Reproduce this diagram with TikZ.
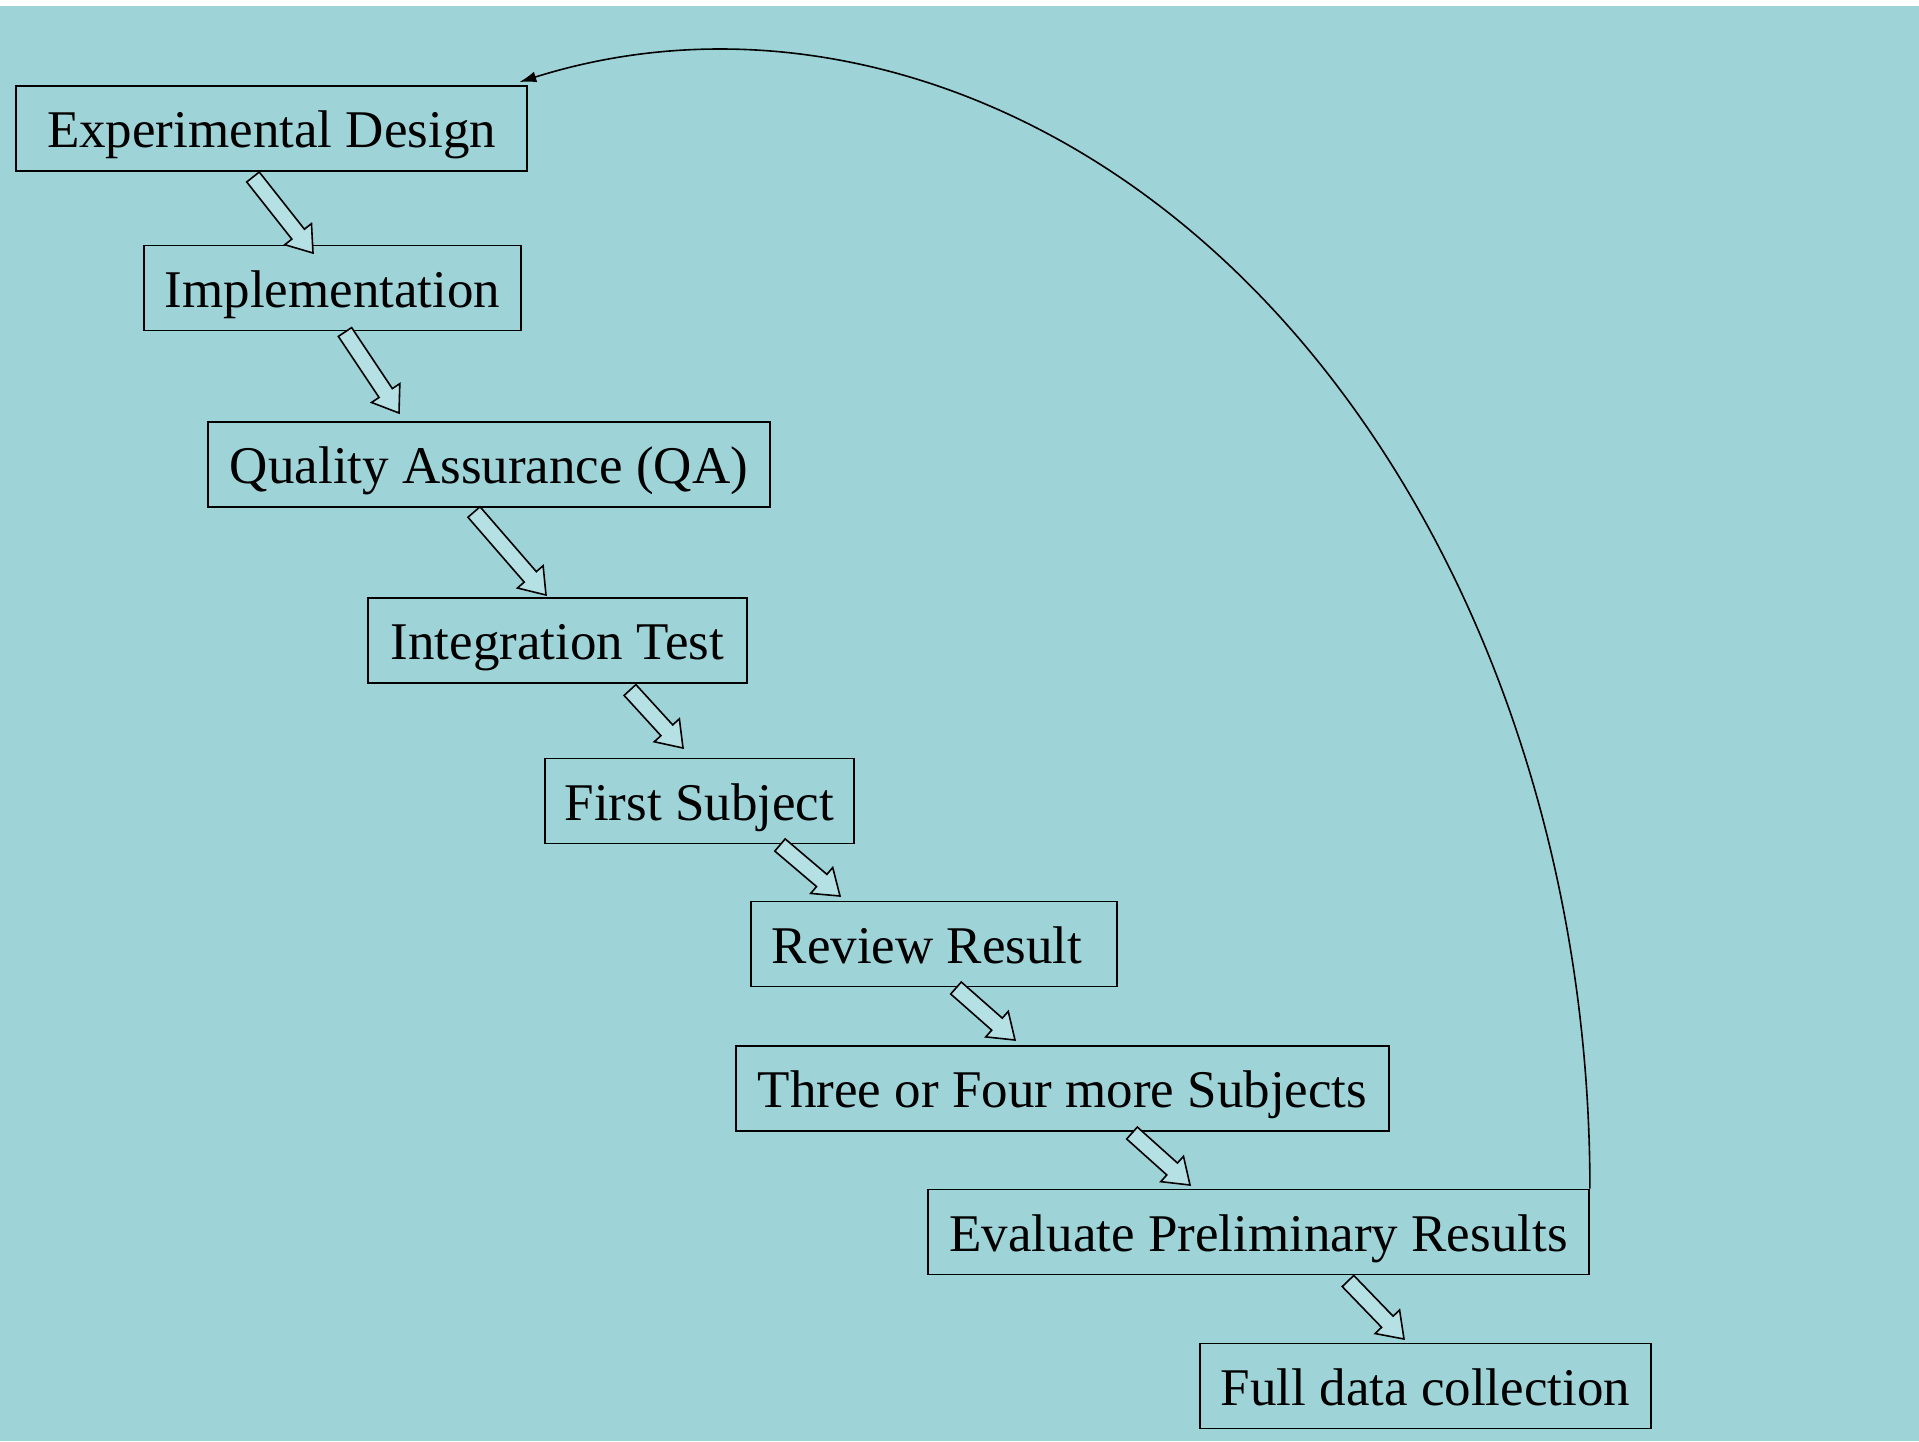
\documentclass[tikz,border=0pt]{standalone}
\usepackage{fontspec}
\setmainfont{Liberation Serif}
\usetikzlibrary{calc,arrows.meta}
\definecolor{bgc}{HTML}{9ED3D8}
\definecolor{arrfill}{HTML}{B5E0E4}
\tikzset{
  stepbox/.style={draw=black, line width=1.8pt, inner sep=0pt, minimum height=85pt,
    font=\fontsize{53}{60}\selectfont, text height=50pt, text depth=12pt},
  blockarr/.style={draw=black, fill=arrfill, line width=1.6pt, line join=miter},
  loopline/.style={draw=black, line width=1.6pt, -{Latex[length=17pt,width=11pt]}}
}
\newcommand\mkblockarrow[2]{%
  \coordinate (nk) at ($(#2)!24pt!(#1)$);
  \draw[blockarr] ($(#1)!8pt!90:(#2)$) -- ($(nk)!8pt!90:(#2)$) -- ($(nk)!17pt!90:(#2)$)
    -- (#2) -- ($(nk)!17pt!-90:(#2)$) -- ($(nk)!8pt!-90:(#2)$) -- ($(#1)!8pt!-90:(#2)$) -- cycle;
}
\begin{document}
\begin{tikzpicture}[x=1pt,y=-1pt]
\useasboundingbox (0,0) rectangle (1919,1441);
\fill[white] (0,0) rectangle (1919,1441);
\fill[bgc] (0,6) rectangle (1919,1441);

\node[stepbox, minimum width=511pt] (b1) at (271.5,128.5) {Experimental Design};
\node[stepbox, minimum width=377pt] (b2) at (332.5,288) {Implementation};
\node[stepbox, minimum width=562pt] (b3) at (489,464.5) {Quality Assurance (QA)};
\node[stepbox, minimum width=379pt] (b4) at (557.5,640.5) {Integration Test};
\node[stepbox, minimum width=309pt] (b5) at (699.5,801) {First Subject};
\node[stepbox, minimum width=366pt] (b6) at (934,944) {Review Result\kern 14pt};
\node[stepbox, minimum width=653pt] (b7) at (1062.5,1088.5) {Three or Four more Subjects};
\node[stepbox, minimum width=661pt] (b8) at (1258.5,1232) {Evaluate Preliminary Results};
\node[stepbox, minimum width=451pt] (b9) at (1425.5,1386) {Full data collection};

\coordinate (a1t) at (253,177);   \coordinate (a1h) at (313,253);
\coordinate (a2t) at (345,332);   \coordinate (a2h) at (399,413);
\coordinate (a3t) at (474,512);   \coordinate (a3h) at (546,595);
\coordinate (a4t) at (630,690);   \coordinate (a4h) at (683,748);
\coordinate (a5t) at (780,845);   \coordinate (a5h) at (840,896);
\coordinate (a6t) at (956,988);   \coordinate (a6h) at (1015,1040);
\coordinate (a7t) at (1132,1133); \coordinate (a7h) at (1190,1185);
\coordinate (a8t) at (1348,1281); \coordinate (a8h) at (1404,1339);

\mkblockarrow{a1t}{a1h}
\mkblockarrow{a2t}{a2h}
\mkblockarrow{a3t}{a3h}
\mkblockarrow{a4t}{a4h}
\mkblockarrow{a5t}{a5h}
\mkblockarrow{a6t}{a6h}
\mkblockarrow{a7t}{a7h}
\mkblockarrow{a8t}{a8h}

\draw[loopline] (b8.north east) arc[start angle=0, end angle=-103.5, x radius=868, y radius=1138];
\end{tikzpicture}
\end{document}
